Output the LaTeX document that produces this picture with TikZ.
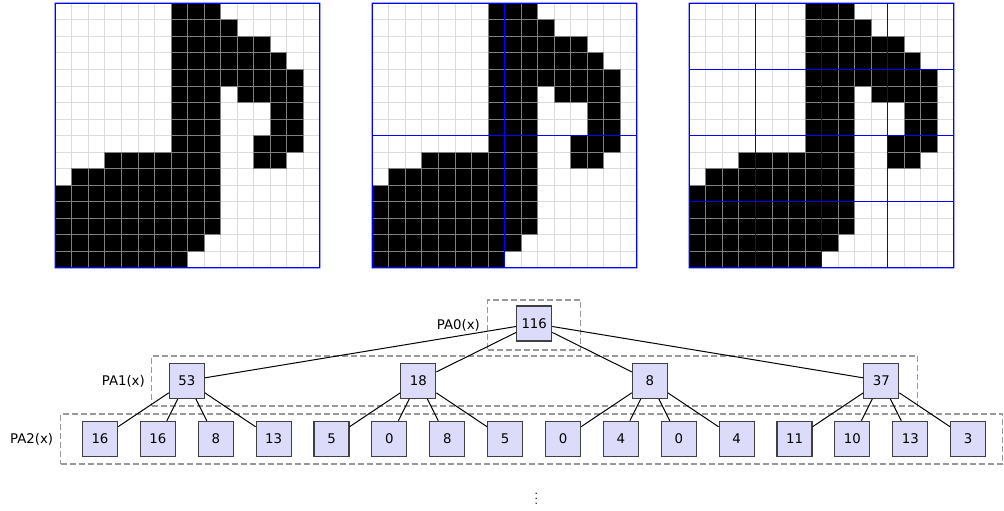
\documentclass[tikz,border=0pt]{standalone}
\usepackage{fontspec}
\setmainfont{DejaVu Sans}
\definecolor{boxfill}{RGB}{220,220,250}
\definecolor{gridblue}{RGB}{0,0,255}
\definecolor{lightgrid}{RGB}{220,220,220}
\definecolor{darkgrid}{RGB}{128,128,128}
\newcommand\pixelgrid{%
  \foreach \i in {0,...,16} {
    \draw[gridline] (\i,0) -- (\i,16);
    \draw[gridline] (0,\i) -- (16,\i);
  }
  \foreach \r/\a/\b in {0/7/9, 1/7/10, 2/7/12, 3/7/13, 4/7/14, 5/7/9, 5/11/14,
      6/7/9, 6/13/14, 7/7/9, 7/13/14, 8/7/9, 8/12/14, 9/3/9, 9/12/13,
      10/1/9, 11/0/9, 12/0/9, 13/0/9, 14/0/8, 15/0/7} {
    \foreach \c in {\a,...,\b} {
      \filldraw[blackcell] (\c,\r) rectangle ++(1,1);
    }
  }
}
\begin{document}
\begin{tikzpicture}[x=1pt,y=-1pt,
  gridline/.style={draw=lightgrid, line width=0.9pt},
  blackcell/.style={fill=black, draw=darkgrid, line width=0.8pt},
  bluebar/.style={fill=gridblue},
  tbox/.style={draw=black!75, fill=boxfill, line width=1.1pt, minimum size=35pt,
    inner sep=0pt, font=\fontsize{13.3}{16}\selectfont},
  lbl/.style={anchor=east, inner sep=0pt, font=\fontsize{13.3}{16}\selectfont},
  grp/.style={draw=black!40, dash pattern=on 6pt off 3pt, line width=1.1pt,
    inner sep=0pt},
  edge/.style={draw=black, line width=1pt}]
\useasboundingbox (0,0) rectangle (1004,511);

% grids
\begin{scope}[shift={(55.3,3.3)}, x=16.53pt, y=-16.53pt]
  \pixelgrid
\end{scope}
\begin{scope}[shift={(372.3,3.3)}, x=16.53pt, y=-16.53pt]
  \pixelgrid
\end{scope}
\begin{scope}[shift={(689.3,3.3)}, x=16.53pt, y=-16.53pt]
  \pixelgrid
\end{scope}

% blue partition lines, drawn as thin filled bars
\fill[bluebar, even odd rule] (54.7,2.7) rectangle (320.38,268.38)
  (55.9,3.9) rectangle (319.18,267.18);
\fill[bluebar, even odd rule] (371.7,2.7) rectangle (637.38,268.38)
  (372.9,3.9) rectangle (636.18,267.18);
\fill[bluebar] (503.94,3.3) rectangle (505.14,267.78);
\fill[bluebar] (372.3,134.94) rectangle (636.78,136.14);
\fill[bluebar, even odd rule] (688.7,2.7) rectangle (954.38,268.38)
  (689.9,3.9) rectangle (953.18,267.18);
\fill[bluebar] (754.82,3.3) rectangle (756.02,267.78);
\fill[bluebar] (820.94,3.3) rectangle (822.14,267.78);
\fill[bluebar] (887.06,3.3) rectangle (888.26,267.78);
\fill[bluebar] (689.3,68.82) rectangle (953.78,70.02);
\fill[bluebar] (689.3,134.94) rectangle (953.78,136.14);
\fill[bluebar] (689.3,201.06) rectangle (953.78,202.26);

% level groups
\node[grp, minimum width=93pt, minimum height=50pt] (g0) at (534.2,325) {};
\node[grp, minimum width=766pt, minimum height=50pt] (g1) at (534.7,381) {};
\node[grp, minimum width=942pt, minimum height=50pt] (g2) at (531.7,439) {};

\node[lbl] (l0) at (480,325) {PA0(x)};
\node[lbl] (l1) at (145,381) {PA1(x)};
\node[lbl] (l2) at (53.3,439.5) {PA2(x)};

% tree
\node[tbox] (r) at (534.2,323.5) {116};
\foreach \v [count=\k from 0] in {53,18,8,37}
  \node[tbox] (p\k) at ({186.8+231.5*\k},380.8) {\v};
\foreach \v [count=\k from 0] in {16,16,8,13,5,0,8,5,0,4,0,4,11,10,13,3}
  \node[tbox] (c\k) at ({100+57.875*\k},438.8) {\v};

\foreach \k in {0,...,3} {
  \draw[edge] (r) -- (p\k);
  \foreach \j in {0,...,3} {
    \pgfmathtruncatemacro\m{4*\k+\j}
    \draw[edge] (p\k) -- (c\m);
  }
}

\node[inner sep=0pt, scale=1.33, font=\footnotesize] (dots) at (536.3,495) {$\vdots$};
\end{tikzpicture}
\end{document}
